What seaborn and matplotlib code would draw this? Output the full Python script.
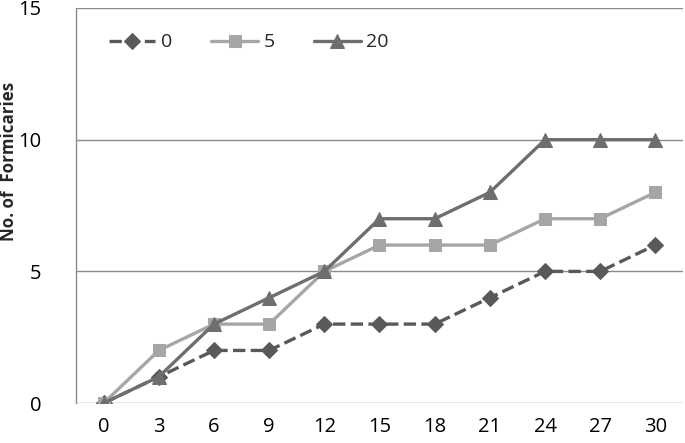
import pandas as pd
import matplotlib.pyplot as plt
import seaborn as sns

days = [0, 3, 6, 9, 12, 15, 18, 21, 24, 27, 30]
series_0 = [0, 1, 2, 2, 3, 3, 3, 4, 5, 5, 6]
series_5 = [0, 2, 3, 3, 5, 6, 6, 6, 7, 7, 8]
series_20 = [0, 1, 3, 4, 5, 7, 7, 8, 10, 10, 10]
labels = ["0", "5", "20"]

df = pd.DataFrame({"day": days * 3,
                   "count": series_0 + series_5 + series_20,
                   "dose": sum([[l] * len(days) for l in labels], [])})

sns.set_style("white")
plt.rcParams["font.family"] = ["Open Sans", "DejaVu Sans"]

fig = plt.figure(figsize=(6.85, 4.43), dpi=100)
ax = fig.add_axes([0.111, 0.09, 0.886, 0.892])

styles = {
    "0": dict(color="#595959", marker="D", linestyle="--", ms=8),
    "5": dict(color="#a6a6a6", marker="s", linestyle="-", ms=9),
    "20": dict(color="#6e6e6e", marker="^", linestyle="-", ms=10),
}
for lab in labels:
    st = styles[lab]
    sns.lineplot(data=df[df["dose"] == lab], x="day", y="count", ax=ax,
                 color=st["color"], marker=st["marker"], linestyle=st["linestyle"],
                 markersize=st["ms"], markeredgecolor=st["color"], linewidth=2.4,
                 label=lab, dashes=False if st["linestyle"] == "-" else (2.2, 1.4))

ax.set_xlim(-1.5, 31.5)
ax.set_ylim(0, 15)
ax.set_xticks(days)
ax.set_yticks([0, 5, 10, 15])
ax.tick_params(axis="both", labelsize=14.5, length=0, colors="#000000")
ax.tick_params(axis="x", pad=10)
ax.tick_params(axis="y", pad=25)
ax.yaxis.grid(True, color="#8c8c8c", linewidth=1)
ax.set_axisbelow(True)
for s in ["top", "right", "bottom"]:
    ax.spines[s].set_visible(False)
ax.spines["left"].set_color("#8c8c8c")
ax.spines["left"].set_linewidth(1)
ax.set_xlabel("")
ax.set_ylabel("No. of  Formicaries", fontsize=12.2, fontweight="bold")
ax.yaxis.set_label_coords(-0.095, 0.612)

ax.legend(loc="upper left", ncol=3, frameon=False, fontsize=14,
          bbox_to_anchor=(0.025, 0.98), handlelength=2.4, columnspacing=2.0,
          handletextpad=0.3)

fig.savefig("out.png", dpi=100)
